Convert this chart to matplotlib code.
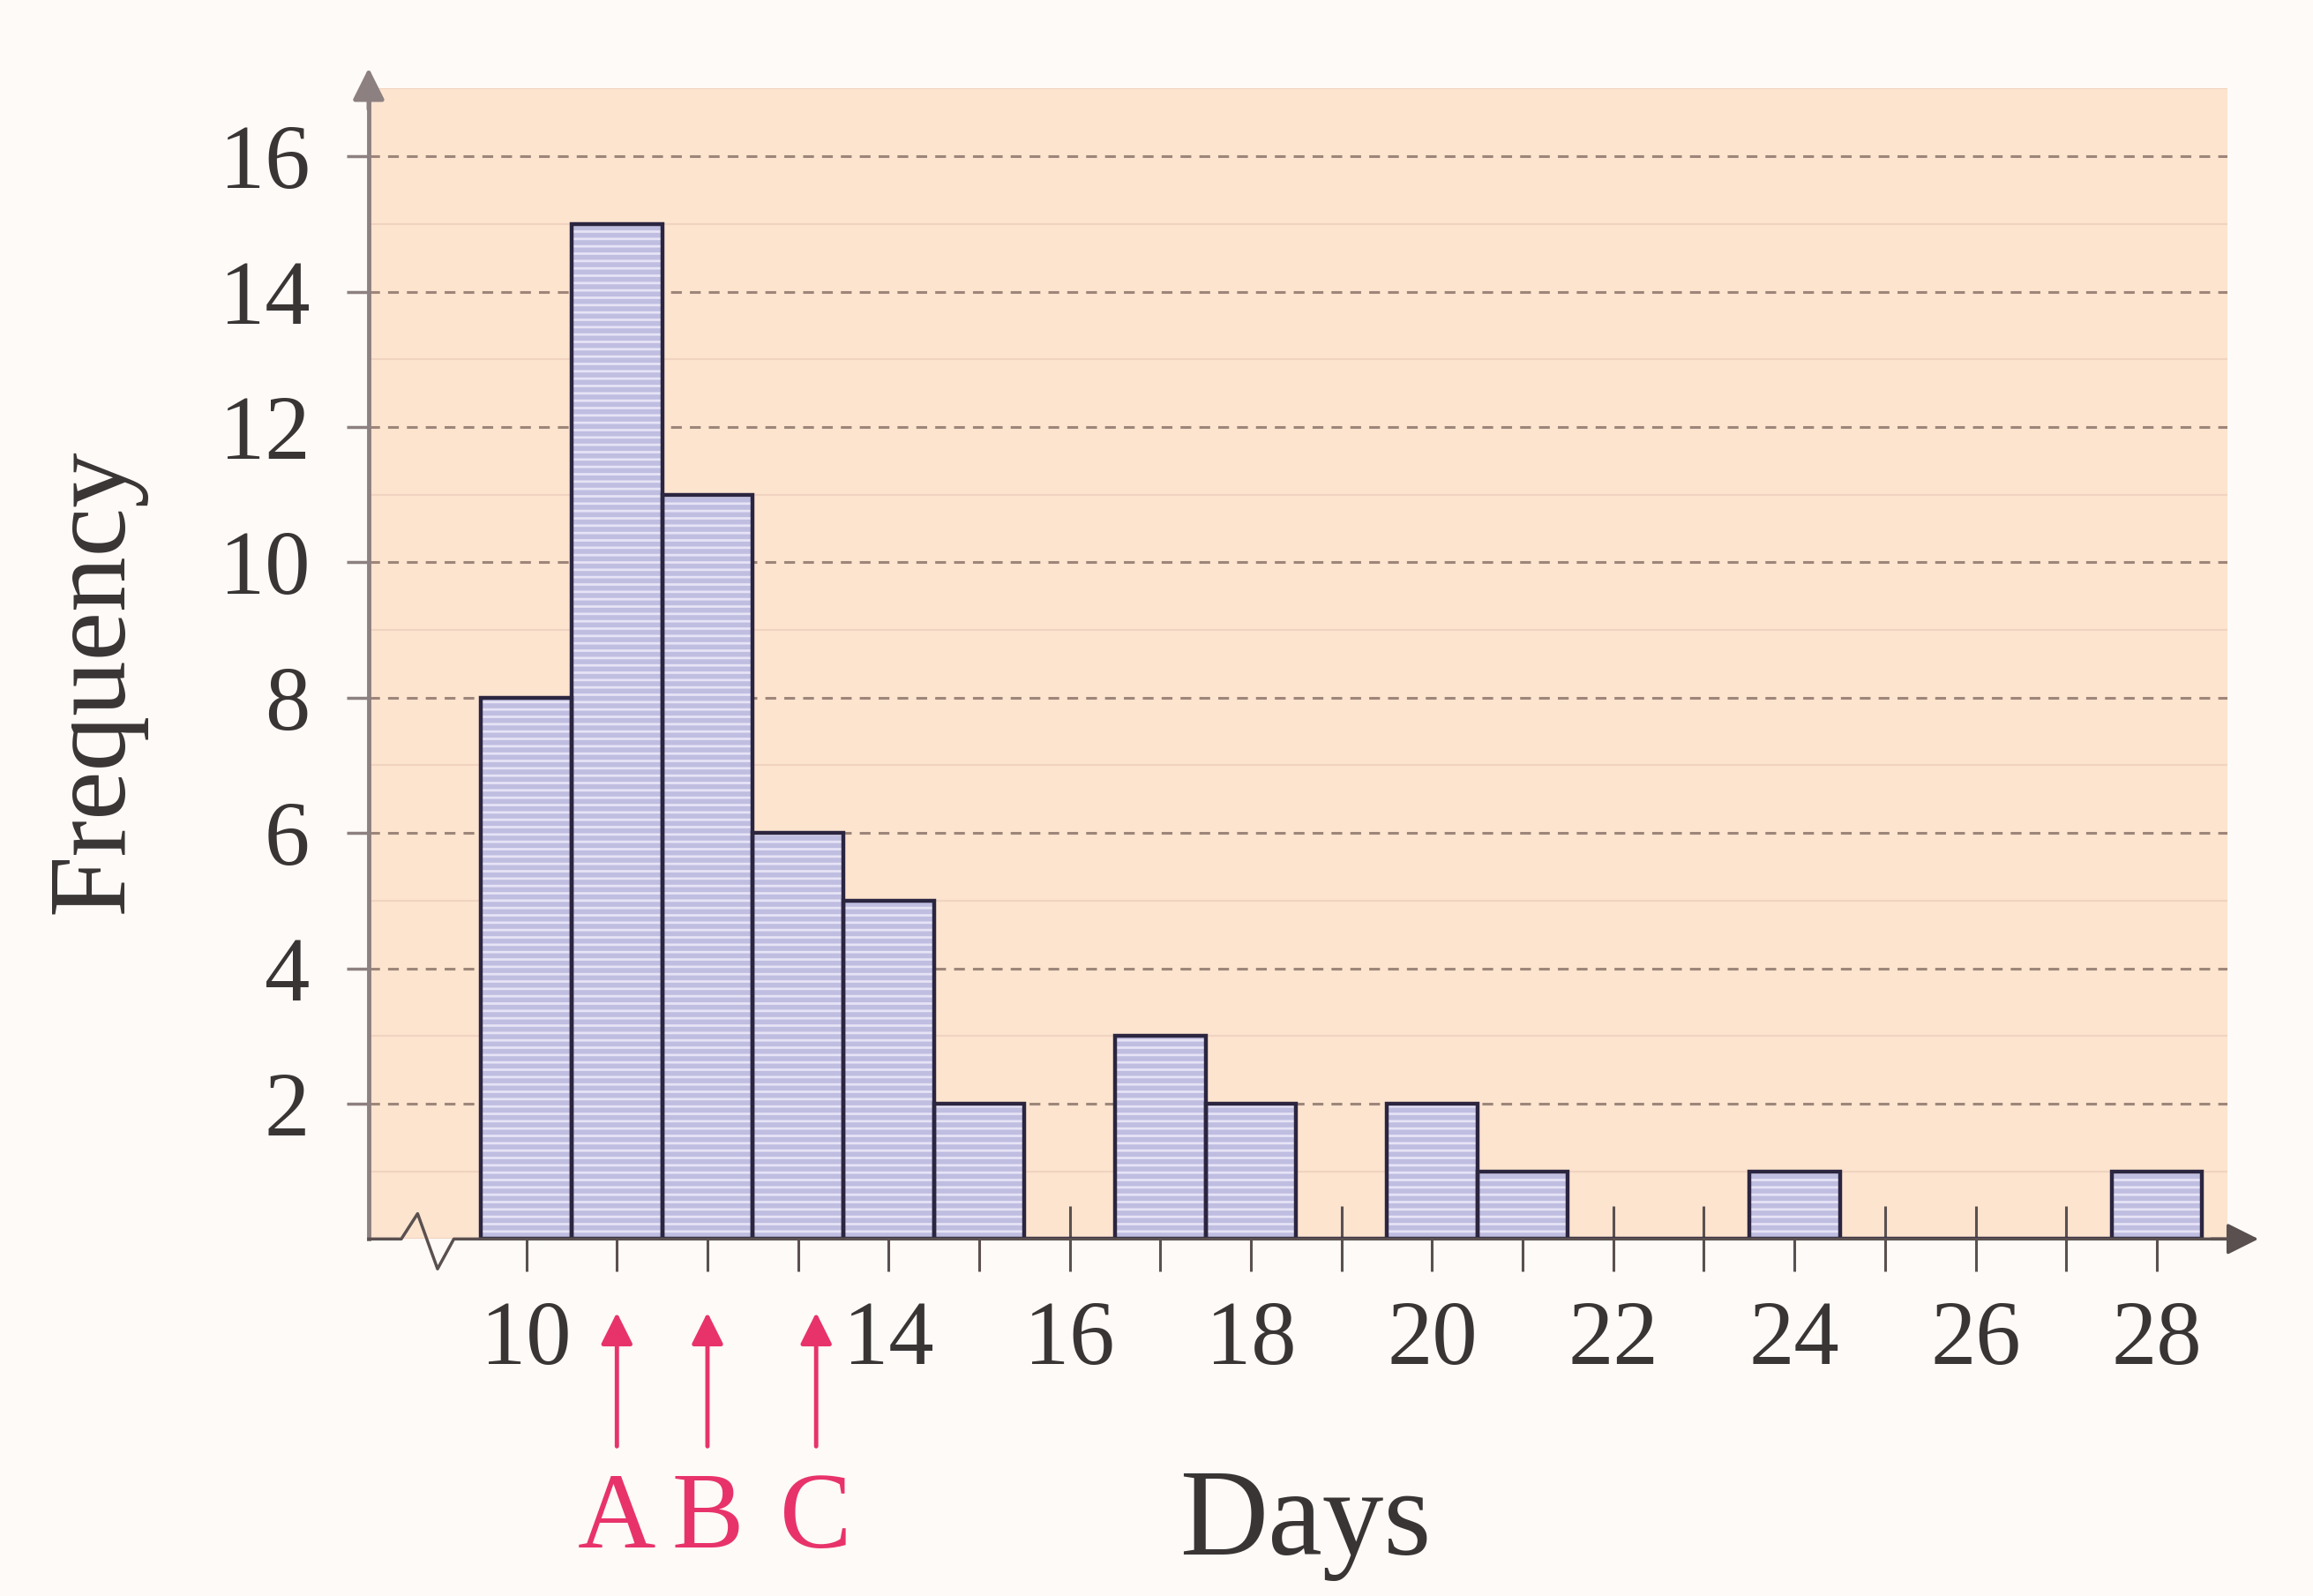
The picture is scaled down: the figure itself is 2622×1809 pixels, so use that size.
import matplotlib.pyplot as plt
from matplotlib.ticker import MultipleLocator

# histogram data: days -> frequency
days = list(range(10, 29))
freq = [8, 15, 11, 6, 5, 2, 0, 3, 2, 0, 2, 1, 0, 0, 1, 0, 0, 0, 1]
xtick_labels = ['10', '', '', '', '14', '', '16', '', '18', '', '20', '',
                '22', '', '24', '', '26', '', '28']
yticks = [2, 4, 6, 8, 10, 12, 14, 16]

# red arrows below the axis
mark_x = [11, 12, 13.2]
mark_labels = ['A', 'B', 'C']

plt.rcParams['font.family'] = ['Liberation Serif', 'DejaVu Serif']
plt.rcParams['hatch.linewidth'] = 2.0

fig = plt.figure(figsize=(26.22, 18.09), dpi=100, facecolor='#fdfaf7')
ax = fig.add_axes([0.1594, 0.2237, 0.8036, 0.7208])
ax.set_facecolor('#fce4cf')
ax.set_axisbelow(True)

ax.set_xlim(8.26, 28.78)
ax.set_ylim(0, 17)

# bars: striped fill, then dark outline on top
ax.bar(days, freq, width=1.0, color='#bfbde0', edgecolor='#e6e3f6',
       hatch='--', linewidth=0, zorder=2)
ax.bar(days, freq, width=1.0, fill=False, edgecolor='#2b2540',
       linewidth=3.2, zorder=3)

# grid
ax.set_yticks(yticks)
ax.yaxis.set_minor_locator(MultipleLocator(1))
ax.grid(axis='y', which='major', color='#9d8679', linestyle=(0, (4, 3)),
        linewidth=2.2)
ax.grid(axis='y', which='minor', color='#f0d3c0', linestyle='-',
        linewidth=1.5)

ax.set_xticks(days)
ax.set_xticklabels(xtick_labels)
ax.tick_params(axis='x', direction='inout', length=53, width=2.2,
               color='#5a5050', pad=24, labelsize=74, labelcolor='#3a3535')
ax.tick_params(axis='y', which='major', direction='out', length=18,
               width=2.5, color='#8d8080', pad=30, labelsize=74,
               labelcolor='#3a3535')
ax.tick_params(axis='y', which='minor', length=0)

for s in ['top', 'right', 'bottom']:
    ax.spines[s].set_visible(False)
ax.spines['left'].set_color('#8d8080')
ax.spines['left'].set_linewidth(3.5)

# x axis line with break mark and arrow
tr = ax.get_xaxis_transform()
ax.plot([8.26, 8.62, 8.80, 9.02, 9.20, 28.78],
        [0, 0, 0.022, -0.026, 0, 0], transform=tr, color='#5a5050',
        linewidth=2.5, clip_on=False, zorder=4)
ax.annotate('', xy=(1.018, 0), xycoords='axes fraction',
            xytext=(0.99, 0), textcoords='axes fraction',
            arrowprops=dict(arrowstyle='-|>', color='#5a5050', lw=2.5,
                            mutation_scale=55), zorder=4)
ax.annotate('', xy=(0, 1.02), xycoords='axes fraction',
            xytext=(0, 0.98), textcoords='axes fraction',
            arrowprops=dict(arrowstyle='-|>', color='#8d8080', lw=3.5,
                            mutation_scale=55))

ax.set_ylabel('Frequency', fontsize=90, color='#3a3535')
ax.yaxis.set_label_coords(-0.12, 0.485)
ax.set_xlabel('Days', fontsize=100, color='#3a3535')
ax.xaxis.set_label_coords(0.504, -0.20)

# A, B, C arrows
for x, lab in zip(mark_x, mark_labels):
    ax.annotate('', xy=(x, -1.05), xytext=(x, -3.1),
                arrowprops=dict(arrowstyle='-|>', color='#e8336a', lw=3.5,
                                mutation_scale=55),
                annotation_clip=False)
    ax.text(x, -3.45, lab, ha='center', va='top', fontsize=88,
            color='#e8336a', clip_on=False)

fig.savefig('out.png', dpi=100, facecolor=fig.get_facecolor())
